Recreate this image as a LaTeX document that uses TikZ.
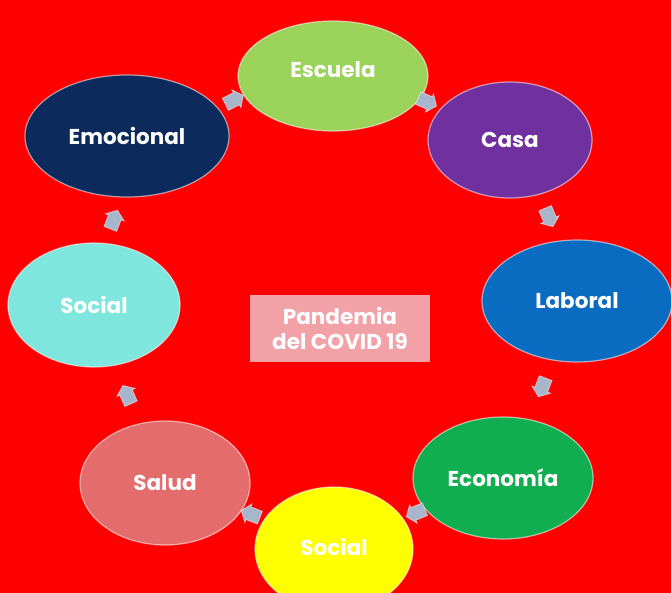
\documentclass[tikz,border=0pt]{standalone}
\usepackage{fontspec}
\setmainfont{Poppins}
\usetikzlibrary{shapes.geometric,shapes.arrows}
\definecolor{bgred}{HTML}{FF0000}
\definecolor{cEscuela}{HTML}{9BD35A}
\definecolor{cCasa}{HTML}{7030A0}
\definecolor{cLaboral}{HTML}{0A6CC0}
\definecolor{cEcon}{HTML}{10AE50}
\definecolor{cSocialY}{HTML}{FFFF00}
\definecolor{cSalud}{HTML}{E46C6C}
\definecolor{cSocialC}{HTML}{7EE6DC}
\definecolor{cEmoc}{HTML}{0C2A5C}
\definecolor{cArrow}{HTML}{A8B6CC}
\definecolor{cCenter}{HTML}{F2A2A6}
\tikzset{
  lbl/.style={text=white, font=\fontsize{21.5}{23}\selectfont\bfseries},
  cyc/.style={ellipse, draw=white, draw opacity=0.55, line width=1.2pt, inner sep=0pt, lbl},
  blk/.style={single arrow, fill=cArrow, draw=white, draw opacity=0.5, line width=0.8pt,
    minimum height=20pt, minimum width=20pt, single arrow head extend=3pt,
    single arrow tip angle=105, inner xsep=0pt, inner ysep=6pt}
}
\begin{document}
\begin{tikzpicture}[x=1pt,y=-1pt]
\fill[bgred] (0,0) rectangle (671,593);
\useasboundingbox (0,0) rectangle (671,593);
\node[cyc, fill=cEscuela, minimum width=190pt, minimum height=110pt] (escuela) at (333,76) {};
\node[lbl] (tEscuela) at (333,70) {Escuela};
\node[cyc, fill=cCasa, minimum width=164pt, minimum height=116pt] (casa) at (510,140) {Casa};
\node[cyc, fill=cLaboral, minimum width=190pt, minimum height=122pt] (laboral) at (577,301) {Laboral};
\node[cyc, fill=cEcon, minimum width=180pt, minimum height=122pt] (econ) at (503,478) {Economía};
\node[cyc, fill=cSocialY, minimum width=158pt, minimum height=124pt] (socialy) at (334,549) {};
\node[lbl] (tSocialY) at (334,547) {Social};
\node[cyc, fill=cSalud, minimum width=170pt, minimum height=124pt] (salud) at (165,483) {Salud};
\node[cyc, fill=cSocialC, minimum width=172pt, minimum height=124pt] (socialc) at (94,305) {Social};
\node[cyc, fill=cEmoc, minimum width=204pt, minimum height=122pt] (emoc) at (127,136) {Emocional};
\node[fill=cCenter, text=white, minimum width=180pt, minimum height=67pt,
  align=center, font=\fontsize{21.5}{25}\selectfont\bfseries] (center) at (340,328) {Pandemia\\del COVID 19};
\node[blk, rotate=27] (a1) at (232,101) {};
\node[blk, rotate=-24] (a2) at (425,101) {};
\node[blk, rotate=-67] (a3) at (548,215) {};
\node[blk, rotate=-111] (a4) at (543,385) {};
\node[blk, rotate=-158] (a5) at (418,512) {};
\node[blk, rotate=159] (a6) at (253,515) {};
\node[blk, rotate=114] (a7) at (128,397) {};
\node[blk, rotate=69] (a8) at (113,222) {};
\end{tikzpicture}
\end{document}
